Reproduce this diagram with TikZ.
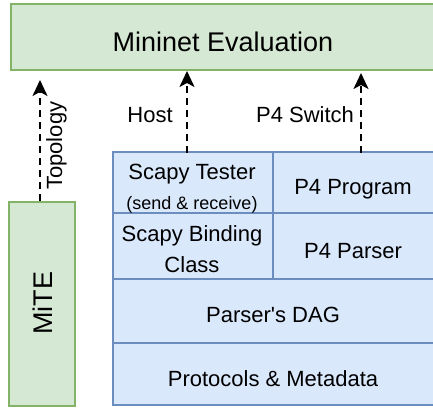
\documentclass[tikz,border=0pt]{standalone}
\usepackage{fontspec}
\setmainfont{Liberation Sans}[Ligatures=TeXOff]
\usetikzlibrary{arrows.meta}
\definecolor{evalfill}{HTML}{D5E8D4}
\definecolor{evalline}{HTML}{82B366}
\definecolor{layerfill}{HTML}{DAE8FC}
\definecolor{layerline}{HTML}{6C8EBF}

\begin{document}
\begin{tikzpicture}[x=1pt,y=1pt,
  box/.style={rectangle, anchor=south west, inner sep=0pt, line width=2pt},
  greenbox/.style={box, draw=evalline, fill=evalfill},
  bluebox/.style={box, draw=layerline, fill=layerfill},
  lbl/.style={inner sep=0pt, anchor=base, font=\fontsize{22}{26}\selectfont},
  biglbl/.style={lbl, font=\fontsize{27}{32}\selectfont},
  smalllbl/.style={lbl, font=\fontsize{18}{22}\selectfont},
  flow/.style={line width=2pt, dash pattern=on 7pt off 5pt,
    -{Stealth[length=16pt,width=15pt,inset=4pt]}}
]
\useasboundingbox (0,0) rectangle (433,409);
\clip (0,0) rectangle (433,409);

% evaluation layer and the MiTE tool (right edges run past the page)
\node[greenbox, minimum width=440pt, minimum height=66pt] (mininet) at (10,338) {};
\node[greenbox, minimum width=66pt, minimum height=204pt] (mite) at (8,2) {};

% stacked components
\node[bluebox, minimum width=160pt, minimum height=61pt] (tester) at (112,195) {};
\node[bluebox, minimum width=176pt, minimum height=61pt] (program) at (272,195) {};
\node[bluebox, minimum width=160pt, minimum height=66pt] (binding) at (112,129) {};
\node[bluebox, minimum width=176pt, minimum height=66pt] (pparser) at (272,129) {};
\node[bluebox, minimum width=336pt, minimum height=64pt] (dag) at (112,65) {};
\node[bluebox, minimum width=336pt, minimum height=62pt] (protocols) at (112,3) {};

% labels
\node[biglbl] (evaltext) at (223,357) {Mininet Evaluation};
\node[biglbl, anchor=base west, rotate=90] (mitetext) at (52,74) {MiTE};
\node[lbl, anchor=base west, rotate=90] (topotext) at (62,219) {Topology};
\node[lbl] (hosttext) at (150,286) {Host};
\node[lbl] (swtext) at (305,286) {P4 Switch};
\node[lbl] (testertext) at (192,229) {Scapy Tester};
\node[smalllbl] (sendtext) at (192,199) {(send \& receive)};
\node[lbl] (programtext) at (353,214) {P4 Program};
\node[lbl] (bindtext1) at (192,167) {Scapy Binding};
\node[lbl] (bindtext2) at (192,136) {Class};
\node[lbl] (parsertext) at (353,150) {P4 Parser};
\node[lbl] (dagtext) at (273,86) {Parser's DAG};
\node[lbl] (prototext) at (273,22) {Protocols \& Metadata};

% connectors into the evaluation layer
\coordinate (hostout) at (187,256);
\coordinate (swout) at (361,256);
\coordinate (topotip) at (40,329);
\draw[flow] (hostout) -- (hostout |- mininet.south);
\draw[flow] (swout) -- ([yshift=-2pt]swout |- mininet.south);
\draw[flow] (mite.north -| topotip) -- (topotip);
\end{tikzpicture}
\end{document}
